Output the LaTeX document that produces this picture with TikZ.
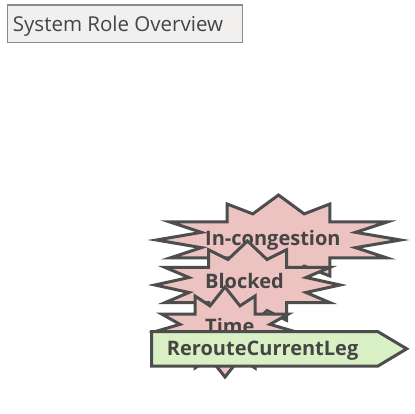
\documentclass[tikz,border=0pt]{standalone}
\usepackage{fontspec}
\setmainfont{Open Sans}
\definecolor{linegray}{HTML}{4D4D4D}
\definecolor{txtgray}{HTML}{454545}
\definecolor{burstfill}{HTML}{EDC3C1}
\definecolor{procfill}{HTML}{D9F0C5}
\definecolor{titlefill}{HTML}{F1F0EF}
\definecolor{titleline}{HTML}{8A8A8A}
\tikzset{
  burstshape/.style={draw=linegray, fill=burstfill, line width=3pt, miter limit=20},
  bursttext/.style={anchor=base west, inner sep=0pt, text=txtgray, font=\fontsize{20}{23}\selectfont\bfseries},
  procshape/.style={draw=linegray, fill=procfill, line width=3pt},
  titlebox/.style={draw=titleline, fill=titlefill, line width=1.3pt},
  titletext/.style={anchor=base west, inner sep=0pt, text=txtgray, font=\fontsize{20.5}{24}\selectfont}
}
\newcommand\myburst[4]{%
  \begin{scope}[shift={(#1,#2)}, xscale=#3, yscale=#4]
    \draw[burstshape] (0.95,0) -- (0.6,-0.17) -- (0.845,-0.4) -- (0.4,-0.4) -- (0.4,-0.8)
      -- (0.2,-0.58) -- (0,-1) -- (-0.2,-0.58) -- (-0.4,-0.8) -- (-0.4,-0.4)
      -- (-0.845,-0.4) -- (-0.6,-0.17) -- (-0.95,0) -- (-0.6,0.17) -- (-0.845,0.4)
      -- (-0.4,0.4) -- (-0.4,0.8) -- (-0.2,0.58) -- (0,1) -- (0.2,0.58)
      -- (0.4,0.8) -- (0.4,0.4) -- (0.845,0.4) -- (0.6,0.17) -- cycle;
  \end{scope}}
\begin{document}
\begin{tikzpicture}[x=1pt, y=-1pt]
\useasboundingbox (0,0) rectangle (415,414);
% title
\draw[titlebox] (7.3,5) rectangle (242.3,42.3);
\node[titletext] (title) at (12.7,31.7) {System Role Overview};
% bursts
\myburst{278.5}{240}{128.5}{45}
\node[bursttext] (incong) at (205,245) {In-congestion};
\myburst{247.5}{285}{97.5}{44}
\node[bursttext] (blocked) at (205,288.5) {Blocked};
\myburst{225}{332}{75}{45}
\node[bursttext] (time) at (205,333.5) {Time};
% process
\draw[procshape] (151.7,331.7) -- (378,331.7) -- (406.7,348.8) -- (378,366) -- (151.7,366) -- cycle;
\node[bursttext] (reroute) at (166.7,355) {RerouteCurrentLeg};
\end{tikzpicture}
\end{document}
